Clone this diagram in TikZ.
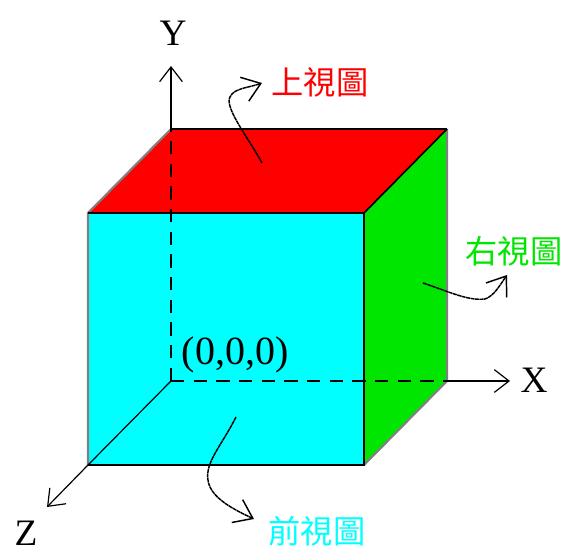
\documentclass[tikz,border=0pt]{standalone}
\usepackage{fontspec}
\setmainfont{Liberation Serif}
\newfontfamily\cjk{Noto Sans CJK TC}
\usepackage{xcolor}
\usetikzlibrary{arrows.meta}
\definecolor{topred}{RGB}{255, 0, 0}
\definecolor{sidegreen}{RGB}{0, 230, 0}
\definecolor{frontcyan}{RGB}{0, 255, 255}
\tikzset{
  axis/.style={line width=0.9pt, -{Straight Barb[length=11pt,width=17pt]}},
  hidden/.style={line width=1.1pt, dash pattern=on 10pt off 7pt},
  pointer/.style={line width=1.1pt, dash pattern=on 3pt off 0.4pt, -{Straight Barb[length=13pt,width=19pt]}},
  axislabel/.style={font=\fontsize{28}{28}\selectfont},
  viewlabel/.style={font=\cjk\fontsize{24.2}{24.2}\selectfont}
}
\begin{document}
\begin{tikzpicture}[x=0.75pt, y=-0.75pt]
  \useasboundingbox (0,0) rectangle (563,553);
  % corners of the cube
  \coordinate (o) at (171,381);
  \coordinate (bt) at (171,129);
  \coordinate (rt) at (447,129);
  \coordinate (rb) at (447,381);
  \coordinate (ft) at (88,213);
  \coordinate (frt) at (364,213);
  \coordinate (frb) at (364,465);
  \coordinate (fb) at (88,465);

  % faces
  \fill[topred] (ft) -- (bt) -- (rt) -- (frt) -- cycle;
  \fill[sidegreen] (frt) -- (rt) -- (rb) -- (frb) -- cycle;
  \fill[frontcyan] (ft) -- (frt) -- (frb) -- (fb) -- cycle;
  \draw[gray, line width=1.6pt] (fb) -- (ft) -- (bt);
  \draw[gray, line width=1.6pt] (rt) -- (rb) -- (frb);
  \draw[line width=1.2pt] (bt) -- (rt);
  \draw[line width=1.2pt] (rt) -- (frt) -- (frb) -- (fb);
  \draw[line width=1.2pt] (ft) -- (frt);

  % axis labels
  \node[axislabel] (ylabel) at (173,33) {Y};
  \node[axislabel] (xlabel) at (534,380) {X};
  \node[axislabel] (zlabel) at (26,533) {Z};
  \node[font=\fontsize{30}{30}\selectfont] (origin) at (235,355) {(0,0,0)};

  % axes
  \coordinate (yend) at (171,66);
  \coordinate (xend) at (510,381);
  \coordinate (zend) at (47,507);
  \draw[axis] (bt) -- (yend);
  \draw[axis] (rb) -- (xend);
  \draw[axis] (fb) -- (zend);
  \draw[hidden] (o) -- (bt);
  \draw[hidden] (o) -- (rb);
  \draw[line width=0.9pt] (o) -- (fb);

  % views
  \node[viewlabel, text=red] (toplabel) at (320,82) {上視圖};
  \node[viewlabel, text=sidegreen] (rightlabel) at (514,251) {右視圖};
  \node[viewlabel, text=frontcyan] (frontlabel) at (317,531) {前視圖};

  \coordinate (topstart) at (262,163);
  \coordinate (topbend) at (230,97);
  \coordinate (toptip) at (262,83);
  \coordinate (rightstart) at (423,283);
  \coordinate (rightbend) at (485,299);
  \coordinate (righttip) at (507,275);
  \coordinate (frontstart) at (236,417);
  \coordinate (frontbend) at (208,480);
  \coordinate (fronttip) at (254,519);
  \draw[pointer] (topstart) .. controls (250,140) and (224,108) .. (topbend) .. controls (234,88) and (248,88) .. (toptip);
  \draw[pointer] (rightstart) .. controls (450,292) and (468,301) .. (rightbend) .. controls (494,296) and (500,285) .. (righttip);
  \draw[pointer] (frontstart) .. controls (222,445) and (205,462) .. (frontbend) .. controls (210,498) and (235,510) .. (fronttip);
\end{tikzpicture}
\end{document}
